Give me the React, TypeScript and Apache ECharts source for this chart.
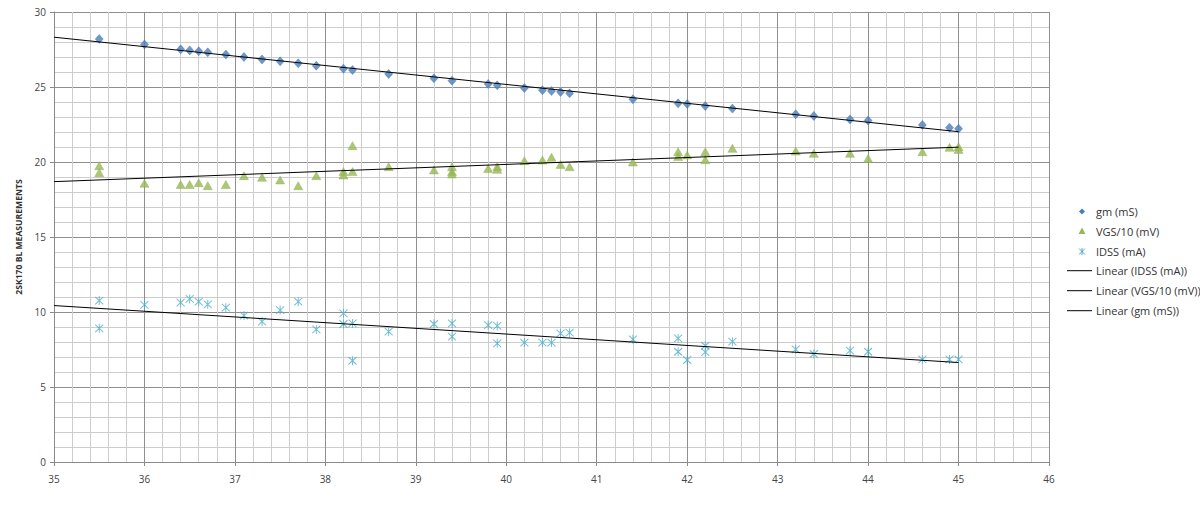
import React, { useEffect, useRef } from "react";
import * as echarts from "echarts";

// ---- data ----
const gmX = [35.5, 36.0, 36.4, 36.5, 36.6, 36.7, 36.9, 37.1, 37.3, 37.5, 37.7, 37.9, 38.2, 38.3, 38.7, 39.2, 39.4, 39.8, 39.9, 40.2, 40.4, 40.5, 40.6, 40.7, 41.4, 41.9, 42.0, 42.2, 42.5, 43.2, 43.4, 43.8, 44.0, 44.6, 44.9, 45.0];
const gmY = [28.2, 27.84, 27.51, 27.44, 27.38, 27.31, 27.16, 27.0, 26.84, 26.71, 26.58, 26.42, 26.22, 26.13, 25.87, 25.58, 25.42, 25.2, 25.11, 24.93, 24.78, 24.73, 24.67, 24.58, 24.18, 23.91, 23.87, 23.73, 23.56, 23.18, 23.07, 22.84, 22.76, 22.47, 22.29, 22.22];

const vgsX = [35.5, 35.5, 36.0, 36.4, 36.5, 36.6, 36.7, 36.9, 37.1, 37.3, 37.5, 37.7, 37.9, 38.2, 38.2, 38.3, 38.3, 38.7, 39.2, 39.4, 39.4, 39.4, 39.8, 39.9, 39.9, 40.2, 40.4, 40.5, 40.6, 40.7, 41.4, 41.9, 41.9, 42.0, 42.2, 42.2, 42.5, 43.2, 43.4, 43.8, 44.0, 44.6, 44.9, 45.0, 45.0];
const vgsY = [19.75, 19.29, 18.58, 18.5, 18.5, 18.62, 18.42, 18.5, 19.09, 18.98, 18.8, 18.42, 19.09, 19.36, 19.13, 21.09, 19.36, 19.69, 19.47, 19.69, 19.36, 19.2, 19.56, 19.69, 19.51, 20.09, 20.13, 20.31, 19.84, 19.69, 20.0, 20.69, 20.36, 20.47, 20.69, 20.15, 20.91, 20.73, 20.58, 20.58, 20.24, 20.69, 20.98, 21.02, 20.84];

const idssX = [35.5, 35.5, 36.0, 36.4, 36.5, 36.6, 36.7, 36.9, 37.1, 37.3, 37.5, 37.7, 37.9, 38.2, 38.2, 38.3, 38.3, 38.7, 39.2, 39.4, 39.4, 39.8, 39.9, 39.9, 40.2, 40.4, 40.5, 40.6, 40.7, 41.4, 41.9, 41.9, 42.0, 42.2, 42.2, 42.5, 43.2, 43.4, 43.8, 44.0, 44.6, 44.9, 45.0];
const idssY = [10.76, 8.91, 10.47, 10.62, 10.87, 10.69, 10.51, 10.29, 9.76, 9.36, 10.13, 10.69, 8.84, 9.91, 9.2, 9.24, 6.75, 8.69, 9.2, 9.24, 8.36, 9.13, 9.07, 7.91, 7.96, 7.96, 7.96, 8.58, 8.62, 8.18, 8.24, 7.35, 6.8, 7.75, 7.32, 8.02, 7.51, 7.2, 7.42, 7.35, 6.84, 6.84, 6.84];

// linear trend lines, endpoints (x = 35 and x = 45)
const trendX = [35, 45];
const gmTrendY = [28.32, 22.02];
const vgsTrendY = [18.69, 20.99];
const idssTrendY = [10.43, 6.63];

const seriesNames = ["gm (mS)", "VGS/10 (mV)", "IDSS (mA)"];
const trendNames = ["Linear (IDSS (mA))", "Linear (VGS/10 (mV))", "Linear (gm (mS))"];

const xTicks = { min: 35, max: 46, interval: 1 };
const yTicks = { min: 0, max: 30, interval: 5 };

const yTitle = "2SK170 BL MEASUREMENTS";

// ---- helpers ----
function zip(xs: number[], ys: number[]) {
  return xs.map((x, i) => [x, ys[i]]);
}

const FONT = "'Open Sans', 'Liberation Sans', sans-serif";
const STAR = "path://M0,0L10,10M10,0L0,10M5,-1L5,11";
const C_GM = "#4A7EBB";
const C_VGS = "#98B954";
const C_IDSS = "#4BACC6";

function legendGraphic() {
  const lx = 1082; // marker centre x
  const tx = 1096; // text x
  const rowY = [211.5, 231, 251.5, 270.7, 290.7, 310.7];
  const names = [...seriesNames, ...trendNames];
  const els: any[] = [];
  els.push({
    type: "polygon",
    shape: { points: [[lx, rowY[0] - 3], [lx + 3, rowY[0]], [lx, rowY[0] + 3], [lx - 3, rowY[0]]] },
    style: { fill: C_GM },
  });
  els.push({
    type: "polygon",
    shape: { points: [[lx, rowY[1] - 3.5], [lx + 3.5, rowY[1] + 3], [lx - 3.5, rowY[1] + 3]] },
    style: { fill: C_VGS },
  });
  const sy = rowY[2];
  [[lx - 3, sy - 3, lx + 3, sy + 3], [lx + 3, sy - 3, lx - 3, sy + 3], [lx, sy - 3.5, lx, sy + 3.5]].forEach((s) =>
    els.push({
      type: "line",
      shape: { x1: s[0], y1: s[1], x2: s[2], y2: s[3] },
      style: { stroke: C_IDSS, lineWidth: 1 },
    })
  );
  for (let i = 3; i < 6; i++) {
    els.push({
      type: "line",
      shape: { x1: 1067, y1: rowY[i], x2: 1092, y2: rowY[i] },
      style: { stroke: "#000", lineWidth: 1 },
    });
  }
  names.forEach((n, i) =>
    els.push({
      type: "text",
      style: {
        text: n,
        x: tx,
        y: rowY[i],
        fill: "#333",
        font: `11px ${FONT}`,
        textVerticalAlign: "middle",
        verticalAlign: "middle",
      },
    })
  );
  return els;
}

export default function App() {
  const ref = useRef<HTMLDivElement>(null);
  useEffect(() => {
    if (!ref.current) return;
    const chart = echarts.init(ref.current, undefined, { renderer: "svg" });
    const trendStyle = { color: "#000", width: 1 };
    chart.setOption({
      animation: false,
      backgroundColor: "#ffffff",
      grid: { left: 54, right: 151, top: 12, bottom: 59, containLabel: false },
      legend: { show: false },
      graphic: legendGraphic(),
      xAxis: {
        type: "value",
        min: xTicks.min,
        max: xTicks.max,
        interval: xTicks.interval,
        axisLine: { show: true, lineStyle: { color: "#8a8a8a" } },
        axisTick: { show: true, length: 4, lineStyle: { color: "#8a8a8a" } },
        axisLabel: { fontFamily: FONT, fontSize: 10, color: "#444", margin: 12 },
        splitLine: { show: true, lineStyle: { color: "#8f8f8f", width: 1 } },
        minorTick: { show: false, splitNumber: 5 },
        minorSplitLine: { show: true, lineStyle: { color: "#cdcdcd", width: 1 } },
      },
      yAxis: {
        type: "value",
        min: yTicks.min,
        max: yTicks.max,
        interval: yTicks.interval,
        name: yTitle,
        nameLocation: "middle",
        nameGap: 29,
        nameTextStyle: { fontFamily: FONT, fontSize: 8.6, fontWeight: "bold", color: "#333" },
        axisLine: { show: true, lineStyle: { color: "#8a8a8a" } },
        axisTick: { show: true, length: 4, lineStyle: { color: "#8a8a8a" } },
        axisLabel: { fontFamily: FONT, fontSize: 10, color: "#444", margin: 8 },
        splitLine: { show: true, lineStyle: { color: "#8f8f8f", width: 1 } },
        minorTick: { show: false, splitNumber: 5 },
        minorSplitLine: { show: true, lineStyle: { color: "#cdcdcd", width: 1 } },
      },
      series: [
        {
          name: seriesNames[0],
          type: "scatter",
          symbol: "diamond",
          symbolSize: [8, 9],
          itemStyle: { color: C_GM, borderColor: "#3b6aa0", borderWidth: 0.5 },
          data: zip(gmX, gmY),
          z: 3,
        },
        {
          name: seriesNames[1],
          type: "scatter",
          symbol: "triangle",
          symbolSize: [9, 8],
          itemStyle: { color: C_VGS, borderColor: "#8aa94a", borderWidth: 0.5 },
          data: zip(vgsX, vgsY),
          z: 3,
        },
        {
          name: seriesNames[2],
          type: "scatter",
          symbol: STAR,
          symbolSize: [8, 9],
          itemStyle: { color: "rgba(0,0,0,0)", borderColor: C_IDSS, borderWidth: 1 },
          data: zip(idssX, idssY),
          z: 3,
        },
        {
          name: trendNames[0],
          type: "line",
          symbol: "none",
          lineStyle: trendStyle,
          itemStyle: { color: "#000" },
          data: zip(trendX, idssTrendY),
          z: 4,
        },
        {
          name: trendNames[1],
          type: "line",
          symbol: "none",
          lineStyle: trendStyle,
          itemStyle: { color: "#000" },
          data: zip(trendX, vgsTrendY),
          z: 4,
        },
        {
          name: trendNames[2],
          type: "line",
          symbol: "none",
          lineStyle: trendStyle,
          itemStyle: { color: "#000" },
          data: zip(trendX, gmTrendY),
          z: 4,
        },
      ],
    });
    return () => chart.dispose();
  }, []);
  return (
    <div
      ref={ref}
      style={{ position: "fixed", left: 0, top: 0, width: 1200, height: 521, background: "#fff" }}
    />
  );
}
